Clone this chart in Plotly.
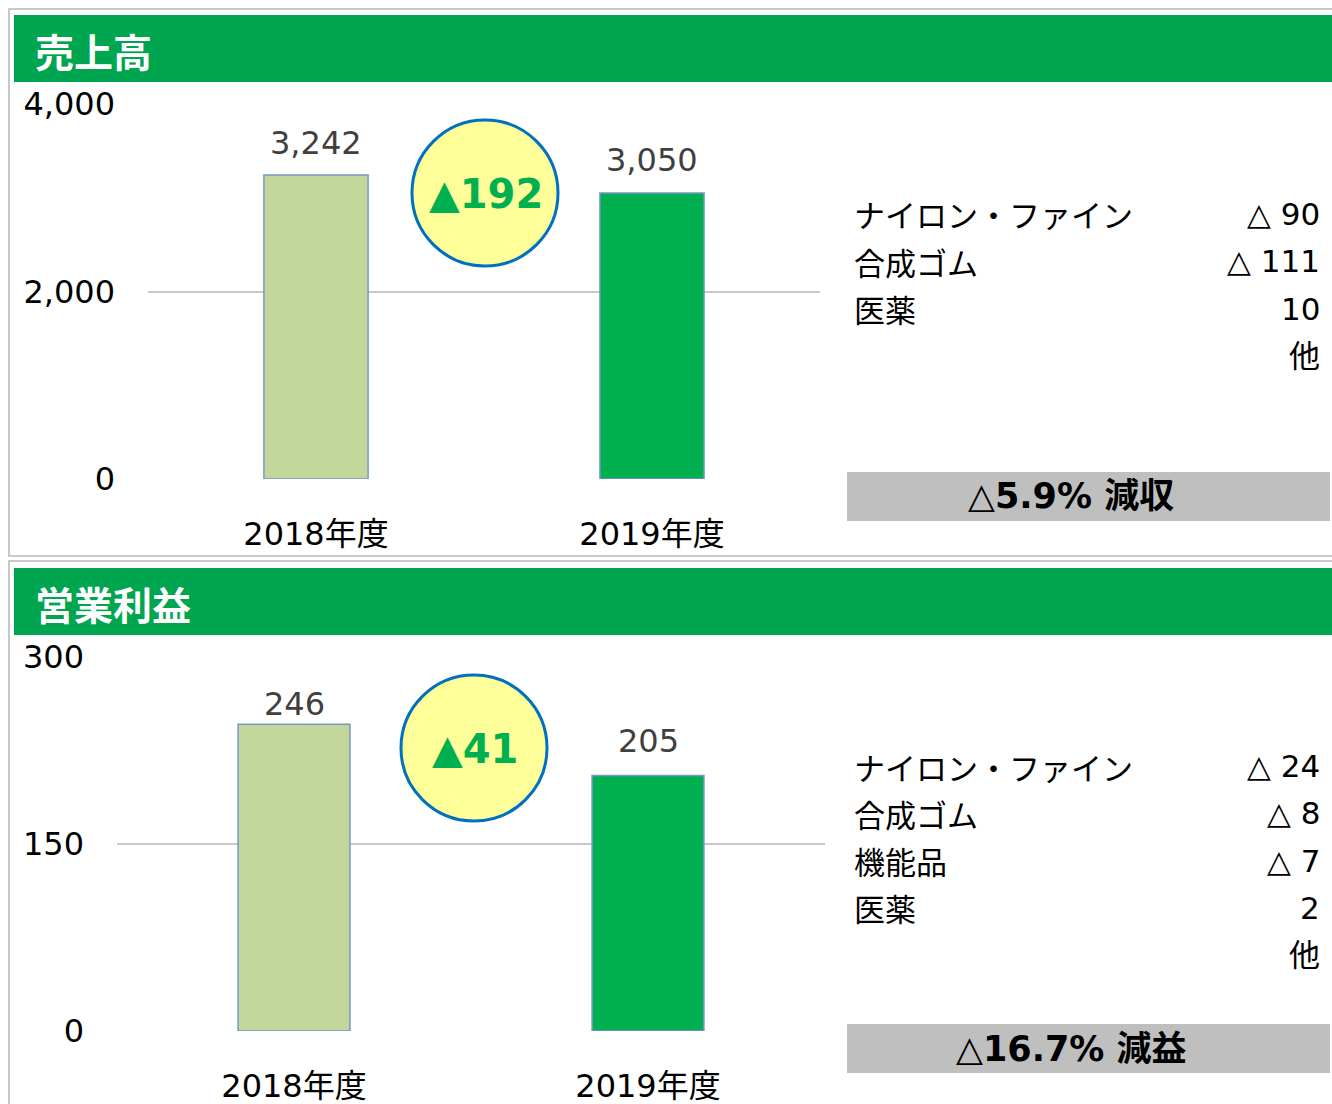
import plotly.graph_objects as go

# ---------------- data ----------------
years = ["2018年度", "2019年度"]
sales = [3242, 3050]
op_income = [246, 205]
sales_ticks = [0, 2000, 4000]
op_ticks = [0, 150, 300]

sales_title = "売上高"
op_title = "営業利益"
sales_diff = "▲192"
op_diff = "▲41"

sales_seg_names = ["ナイロン・ファイン", "合成ゴム", "医薬", ""]
sales_seg_values = ["△ 90", "△ 111", "10", "他"]
op_seg_names = ["ナイロン・ファイン", "合成ゴム", "機能品", "医薬", ""]
op_seg_values = ["△ 24", "△ 8", "△ 7", "2", "他"]

sales_summary = "△<b>5.9% 減収</b>"
op_summary = "△<b>16.7% 減益</b>"

# ---------------- style ----------------
W, H = 1332, 1104
GREEN_HDR = "#00a54f"
GREEN_BAR = "#00b050"
LIGHT_BAR = "#c4d79b"
BAR_EDGE = "#7896c8"
GRID = "#c8c8c8"
NUM_FONT = "DejaVu Sans, Verdana, Noto Sans CJK JP"
JP_FONT = "Noto Sans CJK JP, DejaVu Sans"


def px(x):
    return x / W


def py(y):
    return 1 - y / H


fig = go.Figure()

fig.add_trace(go.Bar(
    x=years, y=sales, xaxis="x", yaxis="y",
    marker=dict(color=[LIGHT_BAR, GREEN_BAR], line=dict(color=BAR_EDGE, width=1.5)),
    width=0.31, showlegend=False, hoverinfo="skip",
))
fig.add_trace(go.Bar(
    x=years, y=op_income, xaxis="x2", yaxis="y2",
    marker=dict(color=[LIGHT_BAR, GREEN_BAR], line=dict(color=BAR_EDGE, width=1.5)),
    width=0.316, showlegend=False, hoverinfo="skip",
))

axis_common = dict(showline=False, zeroline=False, fixedrange=True, automargin=False)
tick_font = dict(family=NUM_FONT, size=32, color="#000")
fig.update_layout(
    width=W, height=H, autosize=False,
    margin=dict(l=0, r=0, t=0, b=0, autoexpand=False),
    paper_bgcolor="white", plot_bgcolor="rgba(0,0,0,0)",
    showlegend=False,
    xaxis=dict(domain=[px(148), px(820)], anchor="y", showgrid=False,
               tickfont=tick_font, ticks="", ticklabelstandoff=33, **axis_common),
    yaxis=dict(domain=[py(479), py(104)], anchor="x", range=[0, 4000],
               tickvals=sales_ticks, ticktext=[f"{v:,}" for v in sales_ticks],
               showgrid=True, gridcolor=GRID, gridwidth=2,
               tickfont=tick_font, ticks="", ticklabelstandoff=32, **axis_common),
    xaxis2=dict(domain=[px(117), px(825)], anchor="y2", showgrid=False,
                tickfont=tick_font, ticks="", ticklabelstandoff=33, **axis_common),
    yaxis2=dict(domain=[py(1031), py(657)], anchor="x2", range=[0, 300],
                tickvals=op_ticks, ticktext=[f"{v:,}" for v in op_ticks],
                showgrid=True, gridcolor=GRID, gridwidth=2,
                tickfont=tick_font, ticks="", ticklabelstandoff=32, **axis_common),
)

shapes = []
annotations = []

# panel borders
shapes.append(dict(type="rect", xref="paper", yref="paper",
                   x0=px(9), x1=px(1345), y0=py(556), y1=py(9),
                   line=dict(color="#c8c8c8", width=2), fillcolor="rgba(0,0,0,0)", layer="below"))
shapes.append(dict(type="rect", xref="paper", yref="paper",
                   x0=px(9), x1=px(1345), y0=py(1115), y1=py(561),
                   line=dict(color="#c8c8c8", width=2), fillcolor="rgba(0,0,0,0)", layer="below"))

# headers
for (y0, y1, title) in [(15, 82, sales_title), (568, 635, op_title)]:
    shapes.append(dict(type="rect", xref="paper", yref="paper",
                       x0=px(14), x1=px(1345), y0=py(y1), y1=py(y0),
                       line=dict(width=0), fillcolor=GREEN_HDR, layer="below"))
    annotations.append(dict(text=f"<b>{title}</b>", xref="paper", yref="paper",
                            x=px(33), y=py((y0 + y1) / 2 + 1), xanchor="left", yanchor="middle",
                            showarrow=False, font=dict(family=JP_FONT, size=39, color="white")))

# data labels
for xa, ya, vals, shifts in [("x", "y", sales, [32, 33]), ("x2", "y2", op_income, [20, 34])]:
    for cat, v, s in zip(years, vals, shifts):
        annotations.append(dict(text=f"{v:,}", x=cat, y=v, xref=xa, yref=ya,
                                xanchor="center", yanchor="middle", yshift=s, showarrow=False,
                                font=dict(family=NUM_FONT, size=32, color="#404040")))

# circles with difference
for (cx, cy, r, label) in [(485, 193, 73, sales_diff), (474, 748, 73, op_diff)]:
    shapes.append(dict(type="circle", xref="paper", yref="paper",
                       x0=px(cx - r), x1=px(cx + r), y0=py(cy + r), y1=py(cy - r),
                       line=dict(color="#0070c0", width=3), fillcolor="#ffff99"))
    annotations.append(dict(text=f"<b>{label}</b>", xref="paper", yref="paper",
                            x=px(cx + 1), y=py(cy + 1), xanchor="center", yanchor="middle",
                            showarrow=False, font=dict(family=NUM_FONT, size=40, color=GREEN_BAR)))

# segment breakdown texts
for (y_start, names, values) in [(214, sales_seg_names, sales_seg_values),
                                 (766, op_seg_names, op_seg_values)]:
    for i, (n, v) in enumerate(zip(names, values)):
        yy = y_start + i * 47.3
        if n:
            annotations.append(dict(text=n, xref="paper", yref="paper", x=px(852), y=py(yy),
                                    xanchor="left", yanchor="middle", showarrow=False,
                                    font=dict(family=JP_FONT, size=31, color="#000")))
        annotations.append(dict(text=v, xref="paper", yref="paper", x=px(1322), y=py(yy),
                                xanchor="right", yanchor="middle", showarrow=False,
                                font=dict(family=NUM_FONT, size=31, color="#000")))

# summary boxes
for (y0, y1, txt) in [(472, 521, sales_summary), (1024, 1073, op_summary)]:
    shapes.append(dict(type="rect", xref="paper", yref="paper",
                       x0=px(847), x1=px(1330), y0=py(y1), y1=py(y0),
                       line=dict(width=0), fillcolor="#bfbfbf", layer="below"))
    annotations.append(dict(text=txt, xref="paper", yref="paper",
                            x=px(1071), y=py((y0 + y1) / 2), xanchor="center", yanchor="middle",
                            showarrow=False, font=dict(family=NUM_FONT, size=35, color="#000")))

fig.update_layout(shapes=shapes, annotations=annotations)

# remove the browser's default page margin so the figure fills the window exactly
fig.write_html("out.html", config={"displayModeBar": False},
               post_script="document.body.style.margin='0';")
